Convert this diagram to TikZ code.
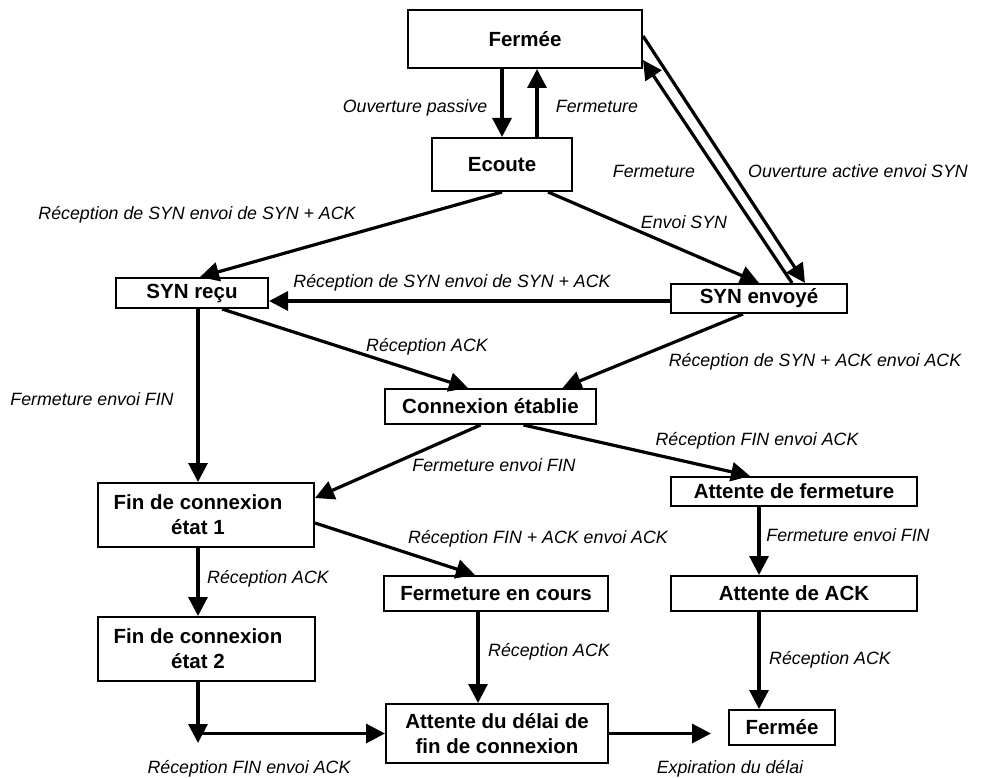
\documentclass[tikz,border=0pt]{standalone}
\usepackage{fontspec}
\setmainfont{Liberation Sans}
\usetikzlibrary{arrows.meta}
\begin{document}
\begin{tikzpicture}[x=1pt,y=-1pt,
  state/.style={draw, line width=2pt, inner sep=0pt, align=center,
    font=\fontsize{20.5}{24.5}\selectfont\bfseries},
  statetext/.style={inner sep=0pt, align=center,
    font=\fontsize{20.5}{25}\selectfont\bfseries},
  lbl/.style={inner sep=0pt, text height=12.7pt, text depth=0pt,
    font=\fontsize{17.8}{20}\selectfont\itshape},
  arr/.style={line width=3.2pt, -{Triangle[length=19pt,width=19pt]}}]
\useasboundingbox (0,0) rectangle (984,778);

% states
\node[state, minimum width=234pt, minimum height=58pt] (ferm1) at (525,39) {Fermée};
\node[state, minimum width=140pt, minimum height=53pt] (ecoute) at (502,164.5) {Ecoute};
\node[state, minimum width=152pt, minimum height=30pt] (synr) at (192,293) {SYN reçu};
\node[state, minimum width=176pt, minimum height=29pt] (syne) at (759,298.5) {SYN envoyé};
\node[state, minimum width=211pt, minimum height=35pt] (conn) at (490.5,406.5) {Connexion établie};
\node[state, minimum width=216pt, minimum height=64pt,
  label={[statetext, xshift=-8pt]center:{Fin de connexion\\état 1}}] (fin1) at (206,515) {};
\node[state, minimum width=246pt, minimum height=29pt] (attf) at (794,491.5) {Attente de fermeture};
\node[state, minimum width=224pt, minimum height=35pt] (fcours) at (496,593.5) {Fermeture en cours};
\node[state, minimum width=246pt, minimum height=35pt] (attack) at (794,593.5) {Attente de ACK};
\node[state, minimum width=217pt, minimum height=64pt,
  label={[statetext, xshift=-8.5pt]center:{Fin de connexion\\état 2}}] (fin2) at (206.5,649) {};
\node[state, minimum width=222pt, minimum height=59pt] (delai) at (497,733.5) {Attente du délai de\\fin de connexion};
\node[state, minimum width=106pt, minimum height=35pt] (ferm2) at (782,727.5) {Fermée};

% helper points
\coordinate (hline) at (0,301);
\coordinate (fin2end) at (198,743);
\coordinate (ferm2tip) at ([xshift=-17pt]ferm2.west);

% transitions
\draw[arr] (ecoute.north |- ferm1.south) -- (ecoute.north);
\draw[arr] ([xshift=35pt]ecoute.north) -- ([xshift=35pt]ecoute.north |- ferm1.south);
\draw[arr] ([yshift=3pt]ferm1.east) -- ([xshift=46pt]syne.north);
\draw[arr] ([xshift=33pt]syne.north) -- ([yshift=-21pt]ferm1.east);
\draw[arr] (ecoute.south) -- ([xshift=8pt]synr.north);
\draw[arr] ([xshift=46pt]ecoute.south) -- (syne.north);
\draw[arr] (syne.west |- hline) -- (synr.east |- hline);
\draw[arr] ([xshift=30pt]synr.south) -- ([xshift=-22.5pt]conn.north);
\draw[arr] ([xshift=-16pt]syne.south) -- ([xshift=72pt]conn.north);
\draw[arr] ([xshift=6pt]synr.south) -- ([xshift=-8pt]fin1.north);
\draw[arr] ([xshift=-10pt]conn.south) -- ([yshift=17pt]fin1.east);
\draw[arr] ([xshift=33pt]conn.south) -- ([xshift=-44pt]attf.north);
\draw[arr] ([yshift=-8pt]fin1.east) -- ([xshift=-21pt]fcours.north);
\draw[arr] ([xshift=-8pt]fin1.south) -- ([xshift=-8.5pt]fin2.north);
\draw[arr] ([xshift=-18pt]fcours.south) -- ([xshift=-19pt]delai.north);
\draw[arr] ([xshift=-8.5pt]fin2.south) -- (fin2end);
\draw[arr] (fin2end |- delai.west) -- (delai.west);
\draw[arr] (delai.east) -- (ferm2tip |- delai.east);
\draw[arr] ([xshift=-35pt]attf.south) -- ([xshift=-35pt]attack.north);
\draw[arr] ([xshift=-35pt]attack.south) -- ([xshift=-23pt]ferm2.north);

% transition labels
\node[lbl] (l1) at (415,106) {Ouverture passive};
\node[lbl] (l2) at (597,106) {Fermeture};
\node[lbl] (l3) at (654,171) {Fermeture};
\node[lbl] (l4) at (858,171) {Ouverture active envoi SYN};
\node[lbl] (l5) at (197,213) {Réception de SYN envoi de SYN + ACK};
\node[lbl] (l6) at (684,222) {Envoi SYN};
\node[lbl] (l7) at (452,281) {Réception de SYN envoi de SYN + ACK};
\node[lbl] (l8) at (427,345) {Réception ACK};
\node[lbl] (l9) at (815,360) {Réception de SYN + ACK envoi ACK};
\node[lbl] (l10) at (92,399) {Fermeture envoi FIN};
\node[lbl] (l11) at (757,439) {Réception FIN envoi ACK};
\node[lbl] (l12) at (494,465) {Fermeture envoi FIN};
\node[lbl] (l13) at (538,537) {Réception FIN + ACK envoi ACK};
\node[lbl] (l14) at (848,535) {Fermeture envoi FIN};
\node[lbl] (l15) at (268,577) {Réception ACK};
\node[lbl] (l16) at (549,650) {Réception ACK};
\node[lbl] (l17) at (830,658) {Réception ACK};
\node[lbl] (l18) at (249,767) {Réception FIN envoi ACK};
\node[lbl] (l19) at (730,767) {Expiration du délai};
\end{tikzpicture}
\end{document}
